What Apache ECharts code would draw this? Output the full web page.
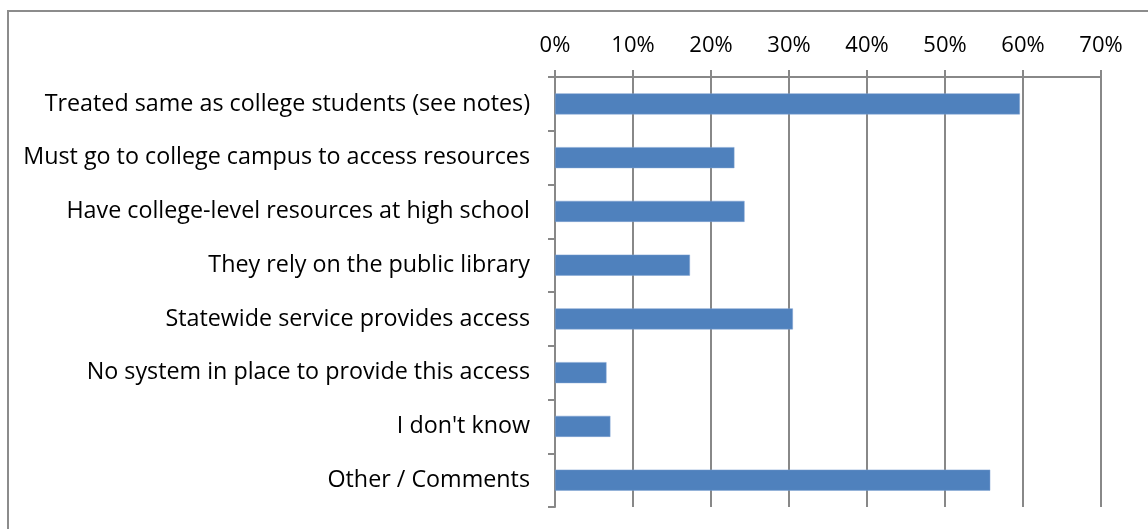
<!DOCTYPE html>
<html>
<head>
<meta charset="utf-8">
<style>
html,body{margin:0;padding:0;background:#fff;}
#chart{width:1148px;height:529px;}
</style>
<script src="https://cdn.jsdelivr.net/npm/echarts@6/dist/echarts.min.js"></script>
</head>
<body>
<div id="chart"></div>
<script>
const categories = [
  "Treated same as college students (see notes)",
  "Must go to college campus to access resources",
  "Have college-level resources at high school",
  "They rely on the public library",
  "Statewide service provides access",
  "No system in place to provide this access",
  "I don't know",
  "Other / Comments"
];
const values = [59.6, 23.0, 24.3, 17.3, 30.5, 6.6, 7.1, 55.8];
const axisMin = 0, axisMax = 70, axisStep = 10;

const chart = echarts.init(document.getElementById('chart'), null, {renderer:'canvas'});
const font = "'Open Sans', 'Liberation Sans', sans-serif";
chart.setOption({
  animation:false,
  backgroundColor:'#ffffff',
  graphic:[{
    type:'rect', silent:true, z:-1,
    shape:{x:8, y:11, width:1300, height:700},
    style:{fill:'none', stroke:'#8c8c8c', lineWidth:2}
  }],
  grid:{left:555, right:47, top:77, bottom:22, containLabel:false},
  xAxis:{
    type:'value', position:'top', min:axisMin, max:axisMax, interval:axisStep,
    axisLine:{show:true, lineStyle:{color:'#888888', width:2}},
    axisTick:{show:true, inside:false, length:7, lineStyle:{color:'#888888', width:2}},
    splitLine:{show:true, lineStyle:{color:'#888888', width:2}},
    axisLabel:{formatter:v=>v+'%', color:'#000', fontSize:22, fontFamily:font, margin:20}
  },
  yAxis:{
    type:'category', data:categories, inverse:true,
    axisLine:{show:true, lineStyle:{color:'#888888', width:2}},
    axisTick:{show:true, inside:false, length:7, alignWithLabel:false, lineStyle:{color:'#888888', width:2}},
    axisLabel:{color:'#000', fontSize:23.3, fontFamily:font, margin:25}
  },
  series:[{
    type:'bar', data:values, barWidth:21,
    itemStyle:{color:'#4f81bd', borderColor:'#7ea3d3', borderWidth:0.5}
  }]
});
</script>
</body>
</html>
